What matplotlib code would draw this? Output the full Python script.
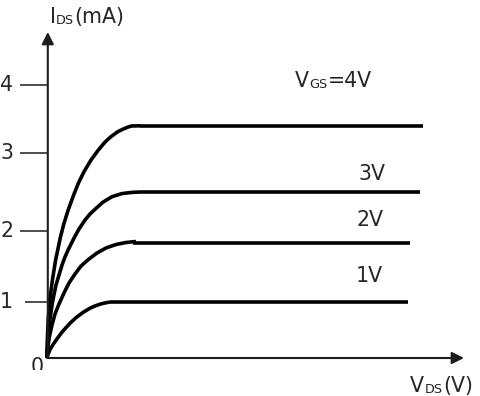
import numpy as np
import matplotlib
matplotlib.use("Agg")
import matplotlib.pyplot as plt
import matplotlib.transforms as mtransforms

# ---------------- data (V_DS in V, I_DS in mA) ----------------
vds_4v = [0, 0.008, 0.03, 0.07, 0.135, 0.215, 0.33, 0.42, 0.53, 0.665, 0.79, 0.925, 1.10,
          1.278, 1.45, 1.588, 1.76, 1.8975, 2.02, 2.11, 2.33]
ids_4v = [0, 0.32, 0.68, 1.03, 1.31, 1.59, 1.90, 2.09, 2.27, 2.46, 2.62, 2.76, 2.91,
          3.04, 3.16, 3.235, 3.31, 3.35, 3.38, 3.397, 3.40]

vds_3v = [0, 0.018, 0.063, 0.138, 0.225, 0.30, 0.375, 0.45, 0.525, 0.675, 0.80, 0.95, 1.075,
          1.225, 1.40, 1.625, 1.875, 2.125, 2.325]
ids_3v = [0, 0.286, 0.643, 1.0, 1.24, 1.38, 1.52, 1.634, 1.73, 1.90, 2.026, 2.14, 2.218,
          2.29, 2.37, 2.44, 2.48, 2.495, 2.50]

vds_2v = [0, 0.02, 0.0625, 0.125, 0.2, 0.3, 0.425, 0.55, 0.7, 0.85, 1.05, 1.25, 1.475,
          1.725, 1.975, 2.225]
ids_2v = [0, 0.196, 0.393, 0.589, 0.786, 0.964, 1.127, 1.268, 1.394, 1.507, 1.606, 1.69,
          1.761, 1.81, 1.838, 1.852]

vds_1v = [0, 0.025, 0.075, 0.15, 0.25, 0.375, 0.575, 0.725, 0.9, 1.075, 1.2, 1.325, 1.45, 1.575]
ids_1v = [0, 0.0625, 0.152, 0.2375, 0.341, 0.4625, 0.621, 0.72, 0.814, 0.889, 0.929, 0.961,
          0.983, 1.0]

sat_level = [3.40, 2.50, 1.83, 1.00]
sat_start = [2.33, 2.325, 2.15, 1.575]
sat_end = [9.4, 9.325, 9.075, 9.025]

y_ticks = [1, 2, 3, 4]
y_tick_labels = ["1", "2", "3", "4"]
origin_label = "0"
curve_labels = ["3V", "2V", "1V"]

# ---------------- figure ----------------
W, H, DPI = 480, 396, 100
FS = 14.8
INK = "#1c1c1c"
TXT = "#262626"

fig = plt.figure(figsize=(W / DPI, H / DPI), dpi=DPI)
ax = fig.add_axes([0, 0, 1, 1])
ax.set_axis_off()

# hand-drawn axis: gridline heights (px above the V_DS axis) for 0..4 mA
kv = np.array([0.0, 1.0, 2.0, 3.0, 4.0])
kh = np.array([0.0, 56.0, 127.0, 205.0, 273.0])
s_lo = kh[1] / kv[1]
s_hi = (kh[-1] - kh[-2]) / (kv[-1] - kv[-2])


def fwd(v):
    v = np.asarray(v, dtype=float)
    out = np.interp(v, kv, kh)
    out = np.where(v > kv[-1], kh[-1] + (v - kv[-1]) * s_hi, out)
    out = np.where(v < kv[0], v * s_lo, out)
    return out


def inv(h):
    h = np.asarray(h, dtype=float)
    out = np.interp(h, kh, kv)
    out = np.where(h > kh[-1], kv[-1] + (h - kh[-1]) / s_hi, out)
    out = np.where(h < kh[0], h / s_lo, out)
    return out


ax.set_yscale("function", functions=(fwd, inv))
X0, PXV, YBASE = 47, 40.0, 358
ax.set_xlim(-X0 / PXV, (W - X0) / PXV)
ax.set_ylim(float(inv(YBASE - H)), float(inv(YBASE)))

# axes with arrows
y_tip = float(inv(YBASE - 32))
x_tip = (464 - X0) / PXV
arrow = dict(arrowstyle="-|>,head_length=0.6,head_width=0.3", lw=1.5, color=INK,
             mutation_scale=12, shrinkA=0, shrinkB=0)
ax.annotate("", xy=(0.02, y_tip), xytext=(0.02, 0), arrowprops=arrow)
ax.annotate("", xy=(x_tip, 0), xytext=(0, 0), arrowprops=arrow)

# tick marks and labels
for t, lab in zip(y_ticks, y_tick_labels):
    x_start = -(27 if t > 1 else 22) / PXV
    ax.plot([x_start, 0], [t, t], color=INK, lw=1.1, solid_capstyle="butt")
    ax.text(-34 / PXV, t, lab, ha="right", va="center", fontsize=FS, color=TXT)

pix = mtransforms.Affine2D().scale(1, -1).translate(0, H)
zero = ax.text(37.5, 373, origin_label, transform=pix, ha="center", va="baseline",
               fontsize=FS, color=TXT)
clip = mtransforms.Bbox.from_extents(0, H - 370, W, H)
zero.set_clip_box(clip)
zero.set_clip_on(True)

# characteristic curves
curves = [(vds_4v, ids_4v), (vds_3v, ids_3v), (vds_2v, ids_2v), (vds_1v, ids_1v)]
for (vx, iy), lvl, xs, xe in zip(curves, sat_level, sat_start, sat_end):
    ax.plot(vx, iy, color="black", lw=2.6, solid_capstyle="butt", solid_joinstyle="round")
    ax.plot([xs, xe], [lvl, lvl], color="black", lw=2.6, solid_capstyle="butt")

# rich text with subscripts
renderer = fig.canvas.get_renderer()


def rich(x, y, parts):
    dx = 0.0
    for s, rel, dy, gap in parts:
        tr = mtransforms.offset_copy(pix, fig=fig, x=dx, y=dy, units="dots")
        t = ax.text(x, y, s, transform=tr, fontsize=FS * rel, ha="left",
                    va="baseline", color=TXT)
        dx += t.get_window_extent(renderer).width + gap


SUB = 0.63
rich(50, 23, [("I", 1, 0, -0.5), ("DS", SUB, -1.2, 1), ("(mA)", 1, 0, 0)])
rich(295, 87, [("V", 1, 0, 0.5), ("GS", SUB, -1.5, 0.5), ("=4V", 1, 0, 0)])
rich(410, 392, [("V", 1, 0, 0.5), ("DS", SUB, -1.0, 1), ("(V)", 1, 0, 0)])
for lab, (px, py) in zip(curve_labels, [(358, 180), (356, 226), (356, 282)]):
    ax.text(px, py, lab, transform=pix, ha="left", va="baseline", fontsize=FS, color=TXT)

fig.savefig("out.png", dpi=DPI, facecolor="white")
